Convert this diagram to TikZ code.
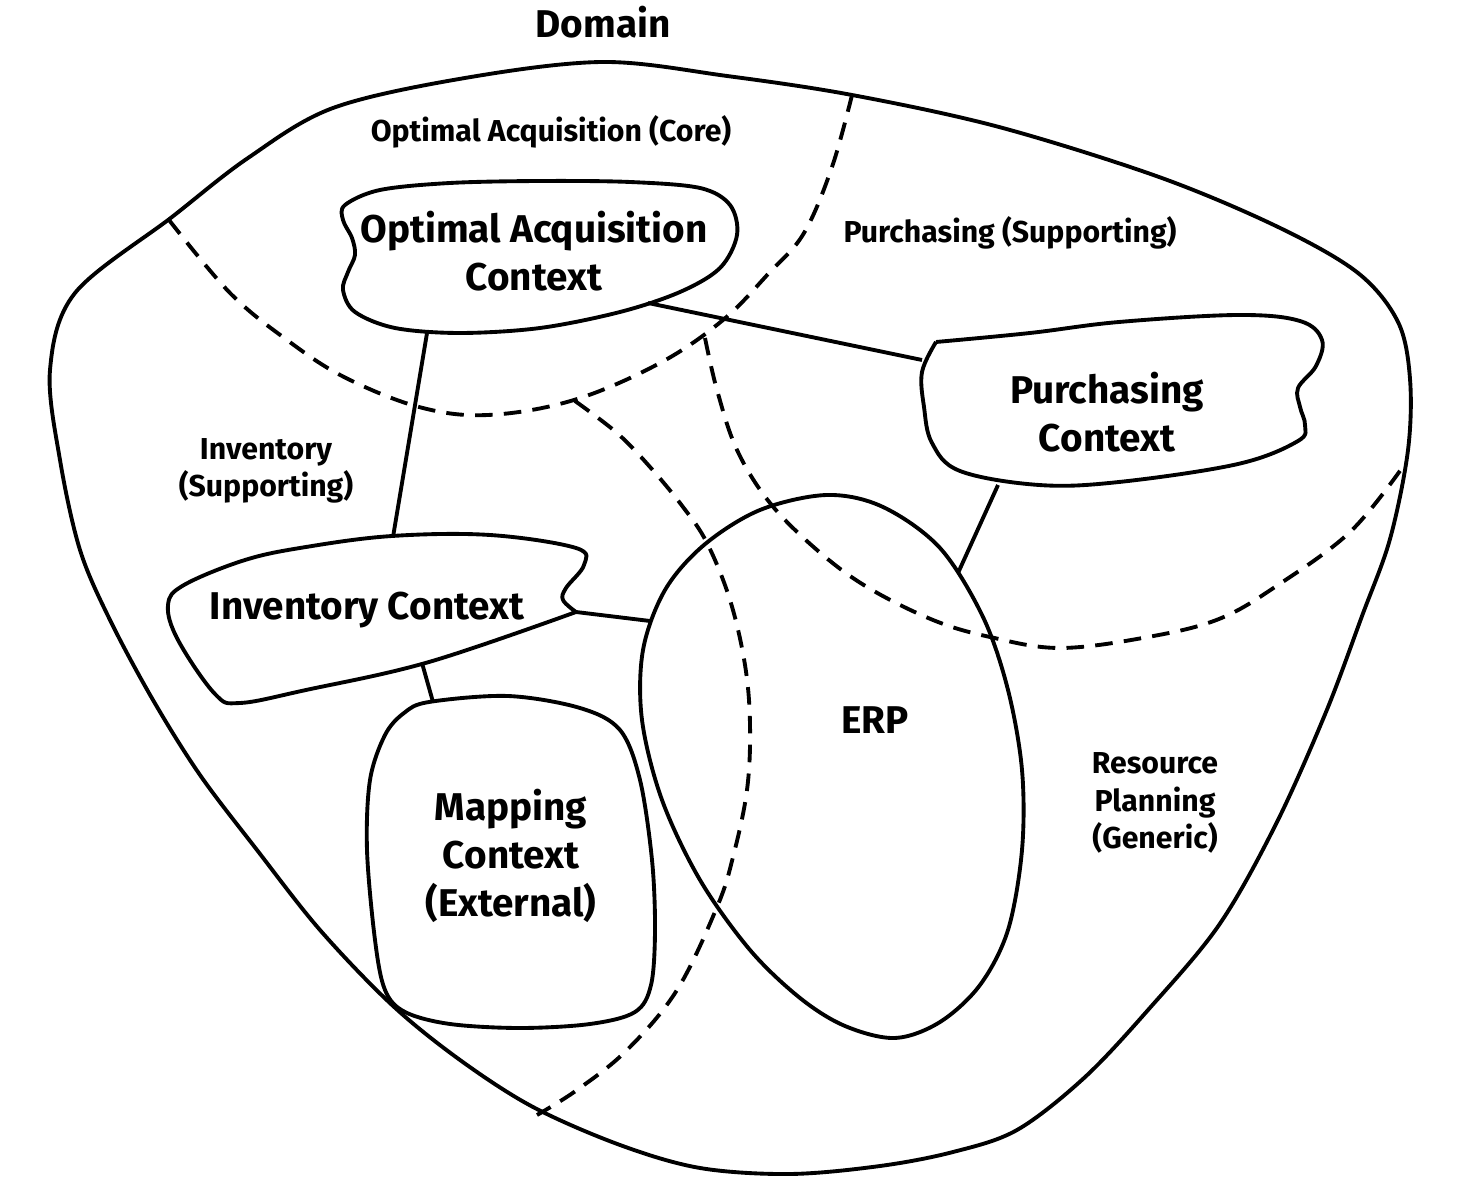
\documentclass[tikz,border=0pt]{standalone}
\usepackage{fontspec}
\setmainfont{Fira Sans}
\usetikzlibrary{positioning}

\begin{document}
\begin{tikzpicture}[
    x=0.01cm, y=-0.01cm,
    domainLine/.style={
        draw=black,
        line width=1.1pt,
        line join=round
    },
    subdomainLine/.style={
        draw=black,
        line width=1.1pt,
        dash pattern=on 5pt off 3.2pt
    },
    contextShape/.style={
        draw=black,
        line width=1.1pt,
        line join=round
    },
    relLine/.style={
        draw=black,
        line width=1.1pt
    },
    contextLabel/.style={
        align=center,
        inner sep=0pt,
        font=\fontsize{11pt}{13.6pt}\selectfont\bfseries
    },
    regionLabel/.style={
        align=center,
        inner sep=0pt,
        font=\fontsize{8.6pt}{10.6pt}\selectfont\bfseries
    }
]
\useasboundingbox (0,0) rectangle (1458,1192);

% ==================== DOMAIN ====================
\draw[domainLine] plot[smooth cycle, tension=0.55] coordinates {
    (603,62) (727,76) (852,95) (999,127) (1159,177) (1278,227) (1358,273)
    (1398,322) (1410,379) (1408,450) (1390,539) (1362,616) (1326,712)
    (1276,824) (1219,925) (1148,1010) (1084,1078) (1017,1130) (953,1152)
    (880,1166) (790,1174) (700,1168) (620,1145) (533,1107) (460,1060)
    (392,1005) (320,930) (257,850) (200,775) (153,700) (110,620) (80,550)
    (60,460) (50,370) (75,293) (172,217) (248,158) (333,108) (465,78)};
\node[font=\fontsize{11pt}{13pt}\selectfont\bfseries] (domainTitle) at (603,22) {Domain};

% ==================== SUBDOMAIN BORDERS ====================
\draw[subdomainLine] plot[smooth, tension=0.6] coordinates {
    (169,220) (230,293) (287,340) (344,377) (419,407) (488,415) (574,400)
    (660,363) (723,320) (769,273) (804,233) (832,167) (852,95)};
\draw[subdomainLine] plot[smooth, tension=0.6] coordinates {
    (575,401) (617,433) (650,467) (683,507) (707,543) (730,600) (745,665)
    (750,725) (747,790) (733,857) (717,907) (677,990) (627,1050) (577,1090)
    (537,1115)};
\draw[subdomainLine] plot[smooth, tension=0.6] coordinates {
    (705,338) (717,390) (737,450) (770,503) (817,550) (867,587) (933,620)
    (990,637) (1060,648) (1148,637) (1219,619) (1278,585) (1350,532)
    (1402,468)};

\node[regionLabel] (coreLabel) at (551,132) {Optimal Acquisition (Core)};
\node[regionLabel] (purchasingLabel) at (1010,233) {Purchasing (Supporting)};
\node[regionLabel] (inventoryLabel) at (266,471) {Inventory\\(Supporting)};
\node[regionLabel] (resourceLabel) at (1155,803) {Resource\\Planning\\(Generic)};

% ==================== BOUNDED CONTEXTS ====================
% Optimal Acquisition
\draw[contextShape] plot[smooth cycle, tension=0.55] coordinates {
    (345,205) (380,190) (450,183) (540,181) (630,182) (700,188) (730,205)
    (737,235) (720,268) (680,292) (620,312) (540,328) (460,333) (395,328)
    (355,312) (343,290) (348,272) (355,255) (352,238) (343,220)};
\node[contextLabel] (optimalCtx) at (534,251) {Optimal Acquisition\\Context};
\coordinate (optimalS) at (427,333);
\coordinate (optimalE) at (648,303);

% Purchasing
\draw[contextShape] plot[smooth, tension=0.6] coordinates {
    (936,342) (1030,333) (1119,322) (1238,315) (1300,321) (1322,340)
    (1316,366) (1298,388) (1300,407) (1305,425) (1298,441) (1238,464)
    (1119,482) (1039,485) (960,471) (932,443) (924,407) (922,372) (936,342)};
\node[contextLabel] (purchasingCtx) at (1107,412) {Purchasing\\Context};
\coordinate (purchasingW) at (922,360);
\coordinate (purchasingS) at (998,485);

% Inventory
\draw[contextShape] plot[smooth, tension=0.6] coordinates {
    (576,612) (429,662) (306,690) (240,703) (215,694) (178,640) (168,605)
    (184,585) (245,560) (306,547) (392,536) (490,535) (576,548) (584,565)
    (566,588) (563,600) (576,612)};
\node[contextLabel] (inventoryCtx) at (367,610) {Inventory Context};
\coordinate (inventoryN) at (393,537);
\coordinate (inventoryE) at (576,612);
\coordinate (inventoryS) at (422,663);

% Mapping
\draw[contextShape] plot[smooth cycle, tension=0.55] coordinates {
    (429,702) (508,696) (580,708) (620,730) (640,780) (652,860) (655,930)
    (651,985) (635,1012) (590,1024) (520,1028) (450,1024) (405,1012)
    (385,990) (375,940) (367,850) (370,780) (385,735) (404,713)};
\node[contextLabel] (mappingCtx) at (511,856) {Mapping\\Context\\(External)};
\coordinate (mappingN) at (433,702);

% ERP
\draw[contextShape] plot[smooth cycle, tension=0.55] coordinates {
    (827,495) (883,507) (940,548) (983,617) (1008,690) (1022,770) (1022,850)
    (1008,930) (980,985) (940,1022) (895,1038) (845,1026) (800,998)
    (750,950) (700,880) (662,800) (642,720) (643,650) (665,590) (704,545)
    (760,510)};
\node[contextLabel] (erpCtx) at (875,720) {ERP};
\coordinate (erpW) at (650,621);
\coordinate (erpN) at (958,573);

% ==================== RELATIONSHIPS ====================
\draw[relLine] (optimalE) -- (purchasingW);
\draw[relLine] (optimalS) -- (inventoryN);
\draw[relLine] (inventoryE) -- (erpW);
\draw[relLine] (inventoryS) -- (mappingN);
\draw[relLine] (purchasingS) -- (erpN);

\end{tikzpicture}
\end{document}
